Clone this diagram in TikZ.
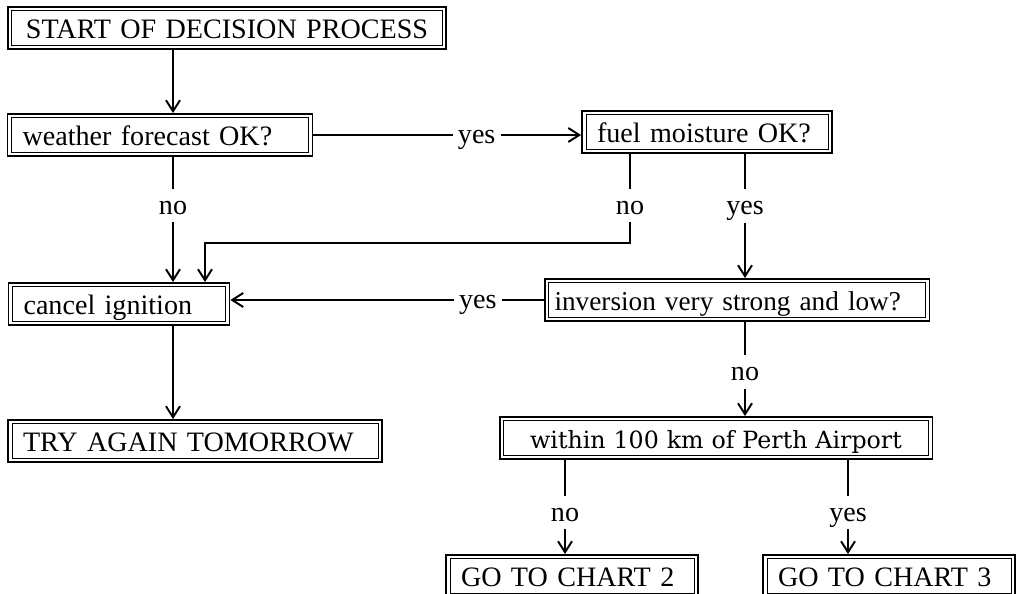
\documentclass[tikz,border=0pt]{standalone}
\usepackage{fontspec}
\setmainfont{Liberation Serif}
\newfontfamily\perthfont{DejaVu Serif}
\usetikzlibrary{arrows.meta, positioning, calc}
\tikzset{
  box/.style={draw, line width=1.1pt, minimum height=0.84cm, inner xsep=0.3cm, inner ysep=0pt,
    text width=#1, align=left, text height=13pt, text depth=1.5pt,
    path picture={\draw[line width=0.45pt]
      ([shift={(2.2pt,2.2pt)}]path picture bounding box.south west) rectangle
      ([shift={(-2.2pt,-2.2pt)}]path picture bounding box.north east);}},
  arr/.style={-{Straight Barb[length=2.2mm, width=2.8mm]}, line width=1.1pt},
  lbl/.style={fill=white, inner xsep=3pt, inner ysep=2.5pt, text height=12pt, text depth=2pt},
}

\begin{document}
\begin{tikzpicture}[x=0.02cm, y=-0.02cm, font=\fontsize{16}{19}\selectfont]
    \useasboundingbox (0,0) rectangle (1023,594);
    % boxes
    \node[box=8.18cm, align=center] (start) at (227,28) {START OF DECISION PROCESS};
    \node[box=5.5cm] (weather) at (160,135) {weather forecast OK?};
    \node[box=4.4cm] (fuel) at (707,132) {fuel moisture OK?};
    \node[box=3.82cm] (cancel) at (119,304) {cancel ignition};
    \node[box=7.3cm, inner xsep=0.2cm, font=\fontsize{15.5}{19}\selectfont] (inversion) at (737,300) {\mbox{inversion very strong and low?}};
    \node[box=6.88cm] (try) at (195,441) {TRY AGAIN TOMORROW};
    \node[box=8.06cm, align=center, font=\perthfont\fontsize{13.5}{16}\selectfont] (within) at (716,438) {within 100 km of Perth Airport};
    \node[box=4.44cm] (go2) at (572,576) {GO TO CHART 2};
    \node[box=4.44cm] (go3) at (889,576) {GO TO CHART 3};
    % connectors
    \draw[arr] (173,0 |- start.south) -- (173,0 |- weather.north);
    \draw[arr] (weather.east) -- node[lbl, pos=0.61] {yes} (weather.east -| fuel.west);
    \draw[arr] (173,0 |- weather.south) -- node[lbl, pos=0.39] {no} (173,0 |- cancel.north);
    \draw[arr] (630,0 |- fuel.south) -- node[lbl, pos=0.58] {no} (630,243) -| (205,0 |- cancel.north);
    \draw[arr] (745,0 |- fuel.south) -- node[lbl, pos=0.42] {yes} (745,0 |- inversion.north);
    \draw[arr] (inversion.west) -- node[lbl, pos=0.21] {yes} (inversion.west -| cancel.east);
    \draw[arr] (745,0 |- inversion.south) -- node[lbl, pos=0.53] {no} (745,0 |- within.north);
    \draw[arr] (173,0 |- cancel.south) -- (173,0 |- try.north);
    \draw[arr] (565,0 |- within.south) -- node[lbl, pos=0.56] {no} (565,0 |- go2.north);
    \draw[arr] (848,0 |- within.south) -- node[lbl, pos=0.56] {yes} (848,0 |- go3.north);
\end{tikzpicture}
\end{document}
